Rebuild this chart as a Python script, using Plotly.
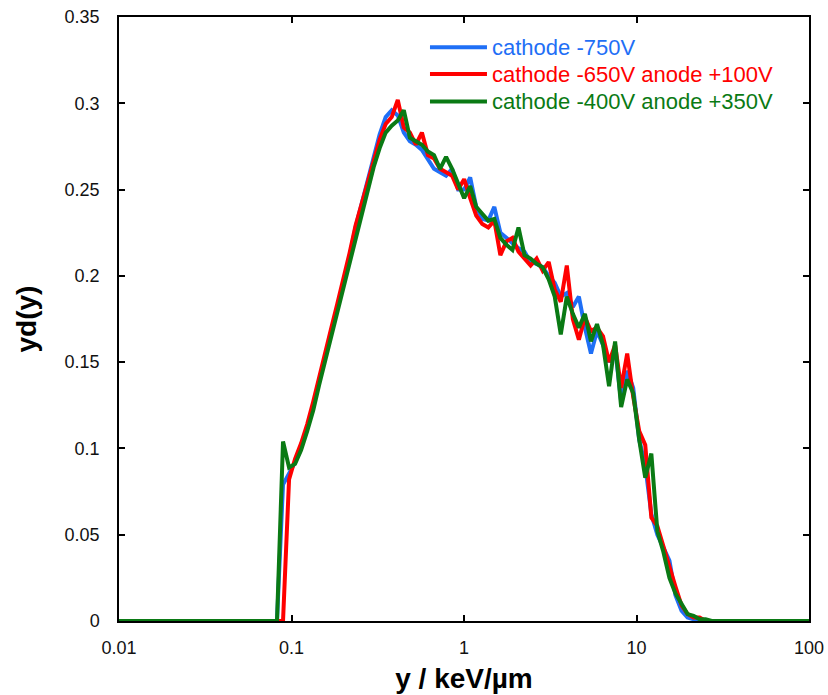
import plotly.graph_objects as go

# bin centres (keV/um)
x_vals = [0.01, 0.0824, 0.0893, 0.0968, 0.1049, 0.1137, 0.1233, 0.1336, 0.1448, 0.1570,
          0.1702, 0.1845, 0.2000, 0.2168, 0.2350, 0.2547, 0.2761, 0.2993, 0.3244, 0.3516,
          0.3811, 0.4131, 0.4478, 0.4853, 0.5261, 0.5702, 0.6181, 0.6700, 0.7262, 0.7871,
          0.8532, 0.9245, 1.002, 1.086, 1.177, 1.276, 1.383, 1.499, 1.625, 1.762,
          1.909, 2.070, 2.243, 2.432, 2.636, 2.857, 3.097, 3.357, 3.639, 3.944,
          4.275, 4.634, 5.023, 5.445, 5.902, 6.397, 6.934, 7.516, 8.147, 8.831,
          9.570, 10.37, 11.24, 12.19, 13.21, 14.32, 15.52, 16.82, 18.24, 19.77,
          21.43, 23.22, 25.17, 27.29, 100]

yd_cathode_750 = [0, 0, 0.079, 0.085, 0.092, 0.101, 0.112, 0.125, 0.140, 0.154,
                  0.168, 0.182, 0.196, 0.211, 0.228, 0.242, 0.256, 0.270, 0.282, 0.292,
                  0.296, 0.293, 0.283, 0.278, 0.276, 0.273, 0.268, 0.262, 0.260, 0.258,
                  0.262, 0.250, 0.250, 0.257, 0.240, 0.233, 0.232, 0.240, 0.225, 0.222,
                  0.219, 0.216, 0.214, 0.208, 0.207, 0.205, 0.200, 0.196, 0.188, 0.190,
                  0.182, 0.188, 0.170, 0.155, 0.168, 0.160, 0.150, 0.158, 0.127, 0.145,
                  0.135, 0.105, 0.090, 0.062, 0.050, 0.042, 0.035, 0.015, 0.006, 0.002,
                  0.001, 0.0, 0.0, 0.0, 0]

yd_c650_a100 = [0, 0, 0, 0.082, 0.094, 0.103, 0.114, 0.127, 0.142, 0.156,
                0.170, 0.184, 0.198, 0.213, 0.229, 0.242, 0.255, 0.267, 0.279, 0.288,
                0.292, 0.302, 0.286, 0.283, 0.276, 0.283, 0.270, 0.268, 0.262, 0.260,
                0.258, 0.250, 0.256, 0.245, 0.235, 0.230, 0.228, 0.232, 0.212, 0.220,
                0.222, 0.214, 0.210, 0.206, 0.210, 0.203, 0.208, 0.192, 0.185, 0.206,
                0.175, 0.163, 0.176, 0.168, 0.170, 0.165, 0.150, 0.160, 0.135, 0.155,
                0.130, 0.110, 0.102, 0.060, 0.055, 0.043, 0.030, 0.020, 0.009, 0.004,
                0.002, 0.002, 0.0, 0.0, 0]

yd_c400_a350 = [0, 0, 0.104, 0.089, 0.091, 0.099, 0.110, 0.122, 0.137, 0.151,
                0.165, 0.179, 0.193, 0.207, 0.223, 0.237, 0.251, 0.263, 0.274, 0.283,
                0.287, 0.290, 0.296, 0.280, 0.278, 0.276, 0.272, 0.270, 0.262, 0.269,
                0.262, 0.254, 0.245, 0.252, 0.240, 0.236, 0.232, 0.233, 0.222, 0.218,
                0.215, 0.228, 0.212, 0.210, 0.207, 0.205, 0.198, 0.188, 0.166, 0.188,
                0.178, 0.170, 0.178, 0.162, 0.172, 0.160, 0.136, 0.162, 0.124, 0.140,
                0.132, 0.105, 0.083, 0.097, 0.052, 0.040, 0.025, 0.016, 0.010, 0.004,
                0.003, 0.001, 0.001, 0.0, 0]

series_names = ["cathode -750V", "cathode -650V anode +100V", "cathode -400V anode +350V"]
series_values = [yd_cathode_750, yd_c650_a100, yd_c400_a350]
series_colors = ["#1f6ff6", "#ff0000", "#0a7a14"]

x_tickvals = [0.01, 0.1, 1, 10, 100]
x_ticktext = ["0.01", "0.1", "1", "10", "100"]
y_tickvals = [0, 0.05, 0.1, 0.15, 0.2, 0.25, 0.3, 0.35]
y_ticktext = ["0", "0.05", "0.1", "0.15", "0.2", "0.25", "0.3", "0.35"]

FONT = "Liberation Sans, Arial, Helvetica, sans-serif"

fig = go.Figure()
for name, ys, col in zip(series_names, series_values, series_colors):
    fig.add_trace(go.Scatter(x=x_vals, y=ys, mode="lines", name=name,
                             line=dict(color=col, width=4), showlegend=False))

# manual legend (long line samples, coloured text)
legend_rows = [0.950, 0.9055, 0.860]
shapes = []
annotations = []
for name, col, yy in zip(series_names, series_colors, legend_rows):
    shapes.append(dict(type="line", xref="paper", yref="paper", x0=0.4507, x1=0.5333,
                       y0=yy, y1=yy, line=dict(color=col, width=4)))
    annotations.append(dict(xref="paper", yref="paper", x=0.5380, y=yy, text=name,
                            showarrow=False, xanchor="left", yanchor="middle",
                            font=dict(family=FONT, size=22, color=col)))

axis_common = dict(showline=True, linecolor="black", linewidth=1.5, mirror="ticks",
                   ticks="inside", ticklen=6, tickwidth=1.5, tickcolor="black",
                   showgrid=False, zeroline=False, automargin=False,
                   tickfont=dict(family=FONT, size=18, color="#111111"))

fig.update_layout(
    width=828, height=695,
    margin=dict(l=119, r=19, t=17, b=74),
    paper_bgcolor="white", plot_bgcolor="white",
    font=dict(family=FONT),
    shapes=shapes, annotations=annotations,
    xaxis=dict(type="log", range=[-2, 2], tickvals=x_tickvals, ticktext=x_ticktext,
               ticklabelstandoff=10,
               title=dict(text="y / keV/µm", standoff=11,
                          font=dict(family=FONT, size=28, weight="bold", color="black")),
               **axis_common),
    yaxis=dict(range=[0, 0.35], tickvals=y_tickvals, ticktext=y_ticktext,
               ticklabelstandoff=14,
               title=dict(text="yd(y)", standoff=20,
                          font=dict(family=FONT, size=28, weight="bold", color="black")),
               **axis_common),
)

fig.write_html("out.html")
